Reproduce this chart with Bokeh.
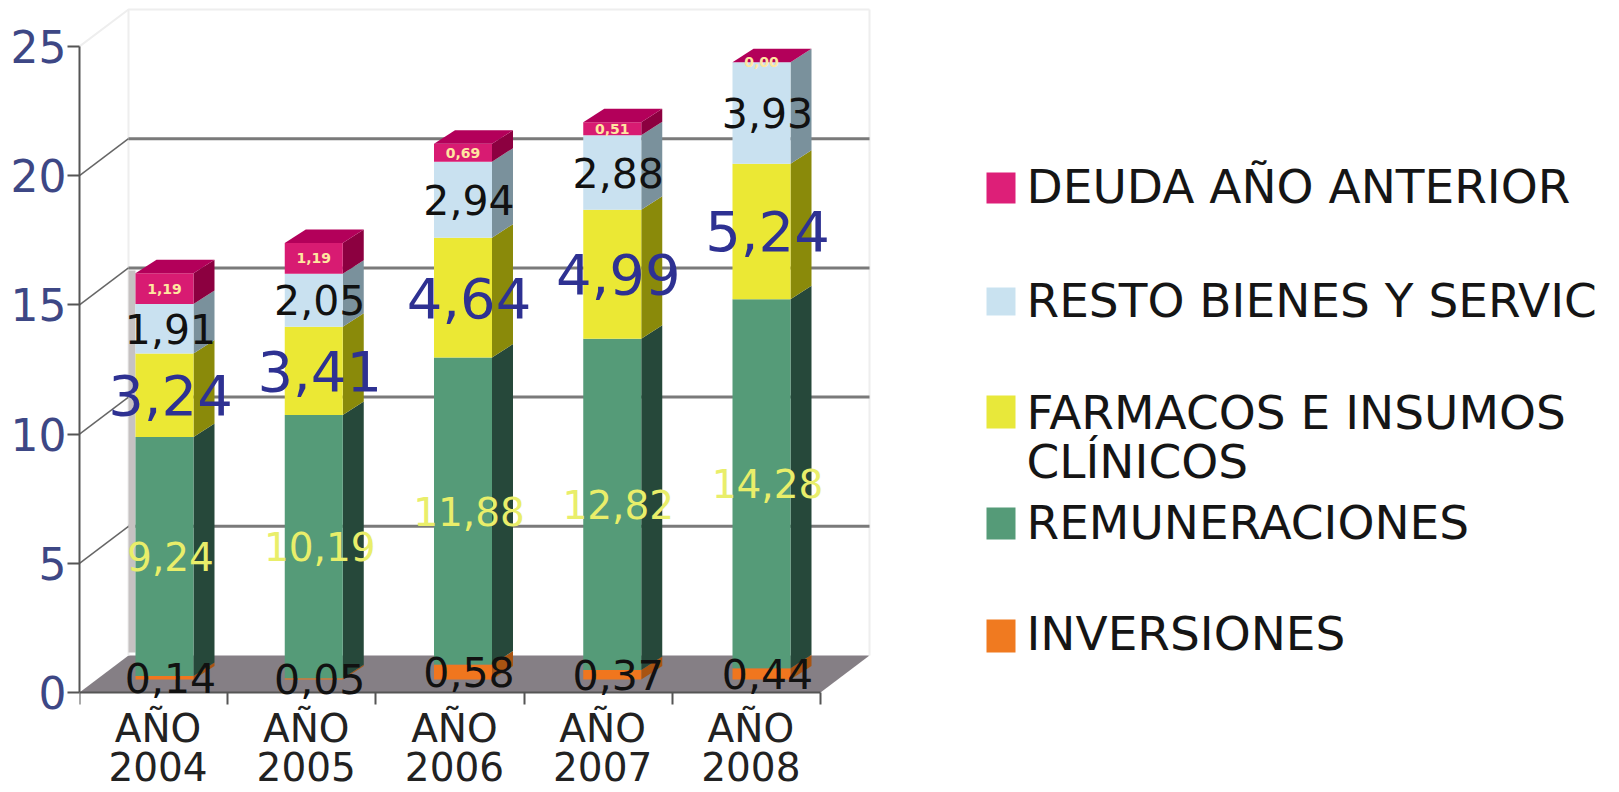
from bokeh.plotting import figure
from bokeh.models import Range1d, FixedTicker, Label
from bokeh.embed import file_html
from bokeh.resources import INLINE

years = ["AÑO\n2004", "AÑO\n2005", "AÑO\n2006", "AÑO\n2007", "AÑO\n2008"]
y_ticks = [0, 5, 10, 15, 20, 25]

inversiones = [0.14, 0.05, 0.58, 0.37, 0.44]
remuneraciones = [9.24, 10.19, 11.88, 12.82, 14.28]
farmacos = [3.24, 3.41, 4.64, 4.99, 5.24]
resto = [1.91, 2.05, 2.94, 2.88, 3.93]
deuda = [1.19, 1.19, 0.69, 0.51, 0.00]

series = [inversiones, remuneraciones, farmacos, resto, deuda]
front_col = ["#f0761e", "#559b78", "#ebe834", "#c9e1f0", "#d81b72"]
side_col = ["#a85412", "#26483a", "#8a8a0a", "#7a919c", "#8c0040"]
lab_col = ["#111111", "#e9ee6a", "#2e3192", "#111111", "#ffe6a0"]
lab_size = ["41px", "39px", "56px", "41px", "14px"]
lab_style = ["normal", "normal", "normal", "normal", "bold"]

legend_labels = [["DEUDA AÑO ANTERIOR"], ["RESTO BIENES Y SERVIC"],
                 ["FARMACOS E INSUMOS", "CLÍNICOS"], ["REMUNERACIONES"], ["INVERSIONES"]]
legend_col = ["#dd1f78", "#c9e2f0", "#e8e83a", "#559b78", "#f07a20"]

# layout: pixels per data unit, position of the origin in the picture
XU, YU = 148.2, 25.84
OX, OY = 79, 692
H = 792
X = lambda px: (px - OX) / XU
Y = lambda py: (OY - py) / YU

p = figure(width=1611, height=H, output_backend="svg", toolbar_location=None,
           x_range=Range1d(0, (1611 - OX) / XU), y_range=Range1d(Y(H), OY / YU),
           min_border_left=OX, min_border_bottom=0, min_border_top=0, min_border_right=0,
           outline_line_color=None, background_fill_color="white")
p.grid.visible = False

ya = p.yaxis[0]
ya.ticker = FixedTicker(ticks=y_ticks)
ya.bounds = (0, 25)
ya.major_tick_out, ya.major_tick_in = 12, 0
ya.minor_tick_out, ya.minor_tick_in = 0, 0
ya.axis_line_color = ya.major_tick_line_color = "#555555"
ya.axis_line_width = ya.major_tick_line_width = 2
ya.major_label_text_color = "#3d4785"
ya.major_label_text_font = "DejaVu Sans"
ya.major_label_text_font_size = "44px"
ya.major_label_standoff = 1

label_pos = [round(i + 0.53, 2) for i in range(5)]
xa = p.xaxis[0]
xa.fixed_location = 0
xa.ticker = FixedTicker(ticks=label_pos, minor_ticks=list(range(6)))
xa.major_label_overrides = dict(zip(label_pos, years))
xa.bounds = (0, 5)
xa.major_tick_out, xa.major_tick_in = 0, 0
xa.minor_tick_out, xa.minor_tick_in = 12, 0
xa.axis_line_color = xa.minor_tick_line_color = "#555555"
xa.axis_line_width = xa.minor_tick_line_width = 2
xa.major_label_text_color = "#222222"
xa.major_label_text_font = "DejaVu Sans"
xa.major_label_text_font_size = "39px"
xa.major_label_text_line_height = 0.88
xa.major_label_standoff = 1

# walls and floor
wdx, wdy = 49 / XU, 37 / YU
p.patch([0, 5, 5 + wdx, wdx], [0, 0, wdy, wdy], color="#857f85", line_color=None)
p.line([wdx, wdx], [wdy, 25 + wdy], color="#eeeeee", line_width=2)
p.line([5 + wdx, 5 + wdx], [wdy, 25 + wdy], color="#eeeeee", line_width=2)
p.line([0, wdx, 5 + wdx], [25, 25 + wdy, 25 + wdy], color="#eeeeee", line_width=2)
for v in y_ticks[1:-1]:
    p.line([0, wdx], [v, v + wdy], color="#666666", line_width=1.5)
    p.line([wdx, 5 + wdx], [v + wdy, v + wdy], color="#7a7a7a", line_width=3)
p.quad(left=X(128), right=X(135), bottom=Y(652), top=Y(270), color="#c6c2c2", line_color=None)

# stacked bars with a fake depth
bar_w = 58 / XU
ddx, ddy = 21 / XU, 13.5 / YU
base = 13 / YU
pitch, first = 149.25 / XU, 56 / XU
for i in range(5):
    l = first + i * pitch
    r = l + bar_w
    b = base
    for s, vals in enumerate(series):
        t = b + vals[i]
        if vals[i] > 0:
            p.patch([r, r + ddx, r + ddx, r], [b, b + ddy, t + ddy, t],
                    color=side_col[s], line_color=None)
            p.quad(left=l, right=r, bottom=b, top=t, color=front_col[s], line_color=None)
        cx = l + (29 if s == 4 else 35) / XU
        p.add_layout(Label(x=cx, y=(b + t) / 2, text=f"{vals[i]:.2f}".replace(".", ","),
                           text_align="center", text_baseline="middle",
                           text_font="DejaVu Sans", text_font_size=lab_size[s],
                           text_color=lab_col[s], text_font_style=lab_style[s]))
        b = t
    p.patch([l, r, r + ddx, l + ddx], [b, b, b + ddy, b + ddy],
            color="#b3005a", line_color=None)

# legend drawn beside the chart
swatch_y = [(172, 203), (287, 315), (395, 428), (507, 539), (619, 652)]
text_y = [[186], [300], [412, 461], [522], [633]]
for col, sy, labels, ty in zip(legend_col, swatch_y, legend_labels, text_y):
    p.quad(left=X(986), right=X(1015), top=Y(sy[0]), bottom=Y(sy[1]), color=col, line_color=None)
    for lab, yy in zip(labels, ty):
        p.text([X(1026)], [Y(yy)], text=[lab], text_align="left", text_baseline="alphabetic",
               text_font={"value": "DejaVu Sans"}, text_font_size={"value": "47px"}, text_color="#151515")

open("out.html", "w").write(file_html(p, INLINE))
